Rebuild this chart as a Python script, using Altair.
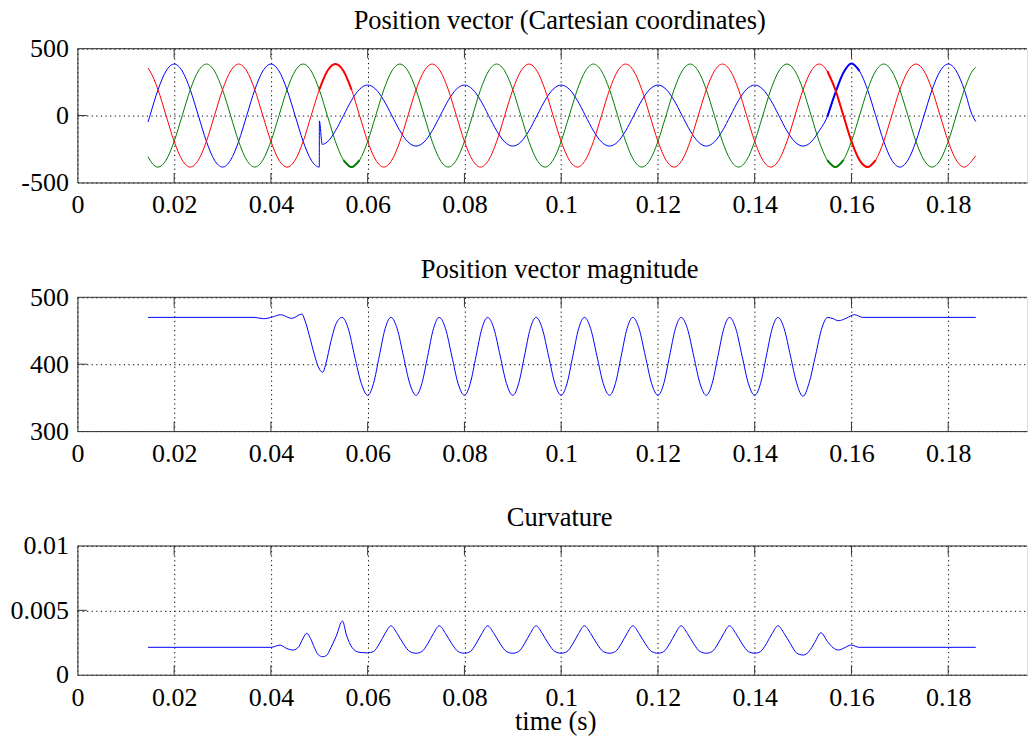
import altair as alt
import pandas as pd

FONT = "Liberation Serif"

# ---------------- Panel 1: position vector components ----------------
t_abc = [0.0146,
         0.015, 0.01667, 0.01833, 0.02, 0.02167, 0.02333, 0.025, 0.02667, 0.02833, 0.03, 0.03167, 0.03333,
         0.035, 0.03667, 0.03833, 0.04, 0.04167, 0.04333, 0.045, 0.04667, 0.04833, 0.05, 0.05167, 0.05333,
         0.055, 0.05667, 0.05833, 0.06, 0.06167, 0.06333, 0.065, 0.06667, 0.06833, 0.07, 0.07167, 0.07333,
         0.075, 0.07667, 0.07833, 0.08, 0.08167, 0.08333, 0.085, 0.08667, 0.08833, 0.09, 0.09167, 0.09333,
         0.095, 0.09667, 0.09833, 0.1, 0.10167, 0.10333, 0.105, 0.10667, 0.10833, 0.11, 0.11167, 0.11333,
         0.115, 0.11667, 0.11833, 0.12, 0.12167, 0.12333, 0.125, 0.12667, 0.12833, 0.13, 0.13167, 0.13333,
         0.135, 0.13667, 0.13833, 0.14, 0.14167, 0.14333, 0.145, 0.14667, 0.14833, 0.15, 0.15167, 0.15333,
         0.155, 0.15667, 0.15833, 0.16, 0.16167, 0.16333, 0.165, 0.16667, 0.16833, 0.17, 0.17167, 0.17333,
         0.175, 0.17667, 0.17833, 0.18, 0.18167, 0.18333, 0.185,
         0.1857]

red_v = [355,
         333, 193, 0, -193, -333, -385, -333, -193, 0, 193, 333, 385,
         333, 193, 0, -193, -333, -385, -333, -193, 0, 193, 333, 385,
         333, 193, 0, -193, -333, -385, -333, -193, 0, 193, 333, 385,
         333, 193, 0, -193, -333, -385, -333, -193, 0, 193, 333, 385,
         333, 193, 0, -193, -333, -385, -333, -193, 0, 193, 333, 385,
         333, 193, 0, -193, -333, -385, -333, -193, 0, 193, 333, 385,
         333, 193, 0, -193, -333, -385, -333, -193, 0, 193, 333, 385,
         333, 193, 0, -193, -333, -385, -333, -193, 0, 193, 333, 385,
         333, 193, 0, -193, -333, -385, -333,
         -300]

green_v = [-307,
           -333, -385, -333, -193, 0, 193, 333, 385, 333, 193, 0, -193,
           -333, -385, -333, -193, 0, 193, 333, 385, 333, 193, 0, -193,
           -333, -385, -333, -193, 0, 193, 333, 385, 333, 193, 0, -193,
           -333, -385, -333, -193, 0, 193, 333, 385, 333, 193, 0, -193,
           -333, -385, -333, -193, 0, 193, 333, 385, 333, 193, 0, -193,
           -333, -385, -333, -193, 0, 193, 333, 385, 333, 193, 0, -193,
           -333, -385, -333, -193, 0, 193, 333, 385, 333, 193, 0, -193,
           -333, -385, -333, -193, 0, 193, 333, 385, 333, 193, 0, -193,
           -333, -385, -333, -193, 0, 193, 333,
           362]

blue_v = [-48,
          0, 193, 333, 385, 333, 193, 0, -193, -333, -385, -333, -193,
          0, 193, 333, 385, 333, 193, 0, -193, -333, -385, -197, -114,
          0, 114, 197, 228, 197, 114, 0, -114, -197, -228, -197, -114,
          0, 114, 197, 228, 197, 114, 0, -114, -197, -228, -197, -114,
          0, 114, 197, 228, 197, 114, 0, -114, -197, -228, -197, -114,
          0, 114, 197, 228, 197, 114, 0, -114, -197, -228, -197, -114,
          0, 114, 197, 228, 197, 114, 0, -114, -197, -228, -197, -114,
          -10, 170, 320, 390, 333, 193, 0, -193, -333, -385, -333, -193,
          0, 193, 333, 385, 333, 193, 0,
          -45]

# the jump of the blue component at the start of the disturbance
blue_jump_t = [0.05002, 0.0506]
blue_jump_v = [-40, -215]

# segments drawn with a heavier (noisy) trace
thick_segments = [("red", 0.0498, 0.0568), ("green", 0.0540, 0.0590),
                  ("blue", 0.1549, 0.1620), ("red", 0.1549, 0.1652),
                  ("green", 0.1545, 0.1590)]

# ---------------- Panel 2: position vector magnitude ----------------
mag_t = [0.0146, 0.0365, 0.0385, 0.0403, 0.0420, 0.0443, 0.0464, 0.0470, 0.0479, 0.0490, 0.0498,
         0.0507, 0.0514, 0.0524, 0.0535, 0.0547, 0.0560, 0.0573, 0.0587, 0.0600,
         0.0612, 0.0624, 0.0636, 0.0648, 0.0661, 0.0674, 0.0687, 0.0700,
         0.0712, 0.0724, 0.0736, 0.0748, 0.0761, 0.0774, 0.0787, 0.0800,
         0.0812, 0.0824, 0.0836, 0.0848, 0.0861, 0.0874, 0.0887, 0.0900,
         0.0912, 0.0924, 0.0936, 0.0948, 0.0961, 0.0974, 0.0987, 0.1000,
         0.1012, 0.1024, 0.1036, 0.1048, 0.1061, 0.1074, 0.1087, 0.1100,
         0.1112, 0.1124, 0.1136, 0.1148, 0.1161, 0.1174, 0.1187, 0.1200,
         0.1212, 0.1224, 0.1236, 0.1248, 0.1261, 0.1274, 0.1287, 0.1300,
         0.1312, 0.1324, 0.1336, 0.1348, 0.1361, 0.1374, 0.1387, 0.1400,
         0.1412, 0.1424, 0.1436, 0.1448, 0.1461, 0.1474, 0.1487, 0.1500,
         0.1512, 0.1526, 0.1538, 0.1551, 0.1562, 0.1573, 0.1590, 0.1606, 0.1623, 0.1857]
mag_v = [470, 470, 468, 470.5, 474, 468.5, 475, 466, 444, 414, 396,
         388, 402, 434, 461, 470, 453, 412, 371, 353.5,
         371, 412, 453, 470, 453, 412, 371, 353.5,
         371, 412, 453, 470, 453, 412, 371, 353.5,
         371, 412, 453, 470, 453, 412, 371, 353.5,
         371, 412, 453, 470, 453, 412, 371, 353.5,
         371, 412, 453, 470, 453, 412, 371, 353.5,
         371, 412, 453, 470, 453, 412, 371, 353.5,
         371, 412, 453, 470, 453, 412, 371, 353.5,
         371, 412, 453, 470, 453, 412, 371, 353.5,
         371, 412, 453, 470, 453, 412, 371, 352,
         371, 414, 452, 470, 468, 465, 469, 474, 470, 470]

# ---------------- Panel 3: curvature ----------------
cur_t = [0.0146, 0.0400, 0.0419, 0.0432, 0.0446, 0.0458, 0.0466, 0.0474, 0.0482, 0.0490, 0.0498,
         0.0507, 0.0515, 0.0524, 0.0535, 0.0548, 0.0556, 0.0568, 0.0582, 0.0600,
         0.0612, 0.0624, 0.0636, 0.0648, 0.0661, 0.0674, 0.0687, 0.0700,
         0.0712, 0.0724, 0.0736, 0.0748, 0.0761, 0.0774, 0.0787, 0.0800,
         0.0812, 0.0824, 0.0836, 0.0848, 0.0861, 0.0874, 0.0887, 0.0900,
         0.0912, 0.0924, 0.0936, 0.0948, 0.0961, 0.0974, 0.0987, 0.1000,
         0.1012, 0.1024, 0.1036, 0.1048, 0.1061, 0.1074, 0.1087, 0.1100,
         0.1112, 0.1124, 0.1136, 0.1148, 0.1161, 0.1174, 0.1187, 0.1200,
         0.1212, 0.1224, 0.1236, 0.1248, 0.1261, 0.1274, 0.1287, 0.1300,
         0.1312, 0.1324, 0.1336, 0.1348, 0.1361, 0.1374, 0.1387, 0.1400,
         0.1412, 0.1424, 0.1436, 0.1448, 0.1461, 0.1474, 0.1487, 0.1500,
         0.1512, 0.1524, 0.1537, 0.1550, 0.1562, 0.1573, 0.1586, 0.1599, 0.1616, 0.1857]
cur_v = [0.00213, 0.00213, 0.0023, 0.00205, 0.00192, 0.0022, 0.0028, 0.00322, 0.0028, 0.0021, 0.00155,
         0.0014, 0.0015, 0.0021, 0.0030, 0.00417, 0.0031, 0.0021, 0.00175, 0.0017,
         0.0018, 0.0024, 0.0032, 0.0038, 0.0032, 0.0024, 0.0018, 0.00167,
         0.0018, 0.0024, 0.0032, 0.0038, 0.0032, 0.0024, 0.0018, 0.00167,
         0.0018, 0.0024, 0.0032, 0.0038, 0.0032, 0.0024, 0.0018, 0.00167,
         0.0018, 0.0024, 0.0032, 0.0038, 0.0032, 0.0024, 0.0018, 0.00167,
         0.0018, 0.0024, 0.0032, 0.0038, 0.0032, 0.0024, 0.0018, 0.00167,
         0.0018, 0.0024, 0.0032, 0.0038, 0.0032, 0.0024, 0.0018, 0.00167,
         0.0018, 0.0024, 0.0032, 0.0038, 0.0032, 0.0024, 0.0018, 0.00167,
         0.0018, 0.0024, 0.0032, 0.0038, 0.0032, 0.0024, 0.0018, 0.00167,
         0.0018, 0.0024, 0.0032, 0.0038, 0.0032, 0.0024, 0.00168, 0.00153,
         0.0018, 0.0025, 0.00326, 0.0026, 0.0021, 0.00192, 0.0021, 0.00231, 0.00213, 0.00213]

# ---------------- axes ----------------
x_ticks = [0, 0.02, 0.04, 0.06, 0.08, 0.1, 0.12, 0.14, 0.16, 0.18]
y1_ticks = [-500, 0, 500]
y2_ticks = [300, 400, 500]
y3_ticks = [0, 0.005, 0.01]

titles = ["Position vector (Cartesian coordinates)", "Position vector magnitude", "Curvature"]
x_label = "time (s)"

W = 951
PX_PER_S = 4845.0
XMAX = W / PX_PER_S
AXIS_COLOR = "#333333"
TICK_LEN = 9.5
LABEL_SIZE = 26
TITLE_SIZE = 26.5
TITLE_CX = 484.5 + 3 - 4.5   # centre of the (cropped) axes box


def axis(values, pad):
    return alt.Axis(values=values, labelExpr="'' + datum.value", labelFont=FONT,
                    labelFontSize=LABEL_SIZE, labelColor="black", ticks=False, tickSize=0,
                    labelPadding=pad,
                    domainColor=AXIS_COLOR, domainWidth=1, grid=True, gridColor="black",
                    gridDash=[1.2, 3.4], gridWidth=1, labelOverlap=False, labelFlush=False)


def panel(series, ydom, yticks, H, title, xlabel=None, thick=(), anchor=False):
    X = alt.X("t:Q", scale=alt.Scale(domain=[0, XMAX], nice=False, zero=False),
              axis=axis(x_ticks, 9.5), title=None)
    Y = alt.Y("v:Q", scale=alt.Scale(domain=ydom, nice=False, zero=False),
              axis=axis(yticks, 9), title=None)

    layers = []
    for name, color, tt, vv in series:
        df = pd.DataFrame({"t": tt, "v": vv}).sort_values("t")
        layers.append(alt.Chart(df).mark_line(color=color, strokeWidth=1, interpolate="monotone")
                      .encode(x=X, y=Y))
        for sname, a, b in thick:
            if sname == name:
                sub = df[(df.t >= a) & (df.t <= b)]
                layers.append(alt.Chart(sub).mark_line(color=color, strokeWidth=2.0,
                                                       interpolate="monotone")
                              .encode(x=X, y=Y))

    xt = pd.DataFrame({"t": x_ticks[1:]})
    layers.append(alt.Chart(xt).mark_rule(color=AXIS_COLOR, strokeWidth=1)
                  .encode(x=X, y=alt.value(H), y2=alt.value(H - TICK_LEN)))
    layers.append(alt.Chart(xt).mark_rule(color=AXIS_COLOR, strokeWidth=1)
                  .encode(x=X, y=alt.value(0), y2=alt.value(TICK_LEN)))
    yt = pd.DataFrame({"v": yticks[1:-1]})
    layers.append(alt.Chart(yt).mark_rule(color=AXIS_COLOR, strokeWidth=1)
                  .encode(y=Y, x=alt.value(0), x2=alt.value(TICK_LEN)))
    # top border
    layers.append(alt.Chart(alt.Data(values=[{"k": 1}])).mark_rule(color=AXIS_COLOR, strokeWidth=1)
                  .encode(x=alt.value(0), x2=alt.value(W), y=alt.value(0)))
    # title
    layers.append(alt.Chart(alt.Data(values=[{"txt": title}]))
                  .mark_text(font=FONT, fontSize=TITLE_SIZE, color="black", align="center",
                             baseline="alphabetic")
                  .encode(x=alt.value(TITLE_CX), y=alt.value(-19.7), text="txt:N"))
    if xlabel:
        layers.append(alt.Chart(alt.Data(values=[{"txt": xlabel}]))
                      .mark_text(font=FONT, fontSize=TITLE_SIZE, color="black", align="center",
                                 baseline="alphabetic")
                      .encode(x=alt.value(TITLE_CX - 4), y=alt.value(H + 55.3), text="txt:N"))
    if anchor:
        # invisible layout anchor fixing the top-left corner of the drawing
        layers.append(alt.Chart(alt.Data(values=[{"k": 1}]))
                      .mark_rule(color="white", strokeOpacity=0, strokeWidth=1)
                      .encode(x=alt.value(-80), x2=alt.value(-79), y=alt.value(-60)))
    return alt.layer(*layers).properties(width=W, height=H)


blue_t_all = t_abc + blue_jump_t
blue_v_all = blue_v + blue_jump_v

p1 = panel([("blue", "#0000ff", blue_t_all, blue_v_all),
            ("green", "#008000", t_abc, green_v),
            ("red", "#ff0000", t_abc, red_v)],
           [-500, 500], y1_ticks, 134, titles[0], thick=thick_segments, anchor=True)
p2 = panel([("mag", "#0000ff", mag_t, mag_v)], [300, 500], y2_ticks, 134, titles[1])
p3 = panel([("cur", "#0000ff", cur_t, cur_v)], [0, 0.01], y3_ticks, 129, titles[2], xlabel=x_label)

chart = (alt.vconcat(p1, p2, p3, spacing=115, bounds="flush")
         .properties(padding={"left": -11.5, "top": -20.8, "right": 0, "bottom": 0.5})
         .configure_view(strokeWidth=0)
         .configure(background="white"))

chart.save("out.html", embed_options={"renderer": "svg", "actions": False})
